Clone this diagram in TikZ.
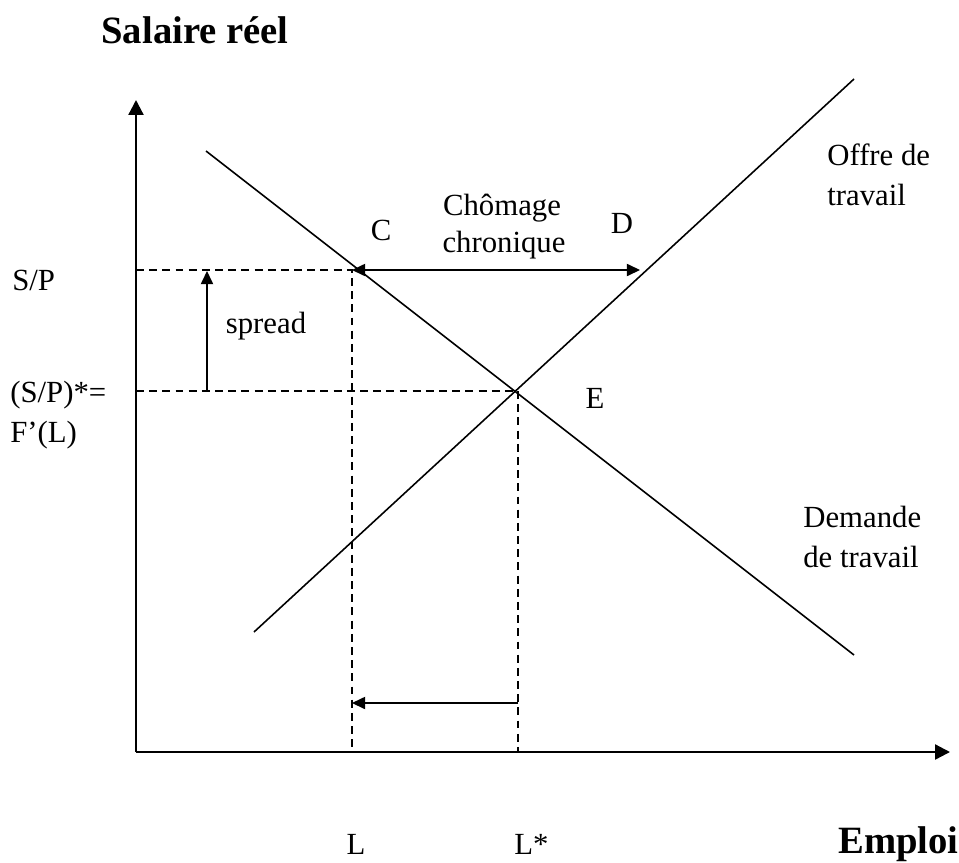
\documentclass[tikz,border=0pt]{standalone}
\usepackage{fontspec}
\setmainfont{Liberation Serif}
\usepackage{tikz}
\usetikzlibrary{arrows.meta}

\begin{document}
\begin{tikzpicture}[x=0.02cm,y=-0.02cm,
    txt/.style={inner sep=0pt,font=\fontsize{17.5}{21}\selectfont},
    ttl/.style={inner sep=0pt,font=\fontsize{22}{26}\selectfont\bfseries},
    axis/.style={line width=1.3pt,-{Triangle[length=8.5pt,width=8.5pt]}},
    curve/.style={line width=0.9pt},
    guide/.style={line width=0.6pt,dash pattern=on 4.5pt off 3pt},
    move/.style={line width=0.7pt,-{Triangle[length=7.5pt,width=7pt]}}]
    \useasboundingbox (0,0) rectangle (959,862);
    % points
    \coordinate (O) at (136,752);
    \coordinate (ytip) at (136,100);
    \coordinate (xtip) at (950,752);
    \coordinate (d1) at (206,151);
    \coordinate (d2) at (854,655);
    \coordinate (s1) at (254,632);
    \coordinate (s2) at (854,79);
    \coordinate (C) at (352,270);
    \coordinate (D) at (640,270);
    \coordinate (E) at (518,391);
    \coordinate (spY) at (136,270);
    \coordinate (eqY) at (136,391);
    \coordinate (Lx) at (352,752);
    \coordinate (Lsx) at (518,752);
    \coordinate (sprB) at (207,391);
    \coordinate (sprT) at (207,271);
    \coordinate (arR) at (518,703);
    \coordinate (arL) at (352,703);
    % axes
    \draw[axis] (O) -- (ytip);
    \draw[axis] (O) -- (xtip);
    % demand and supply
    \draw[curve] (d1) -- (d2);
    \draw[curve] (s1) -- (s2);
    % guides
    \draw[guide] (spY) -- (C) -- (Lx);
    \draw[guide] (eqY) -- (E) -- (Lsx);
    % arrows
    \draw[move,{Triangle[length=7.5pt,width=7pt]}-{Triangle[length=7.5pt,width=7pt]}] (C) -- (D);
    \draw[move] (sprB) -- (sprT);
    \draw[move] (arR) -- (arL);
    % labels
    \node[ttl,anchor=base] (title) at (195,43) {Salaire réel};
    \node[ttl,anchor=base east] (emploi) at (959,853) {Emploi};
    \node[txt,anchor=base west] (sp) at (12,290) {S/P};
    \node[txt,anchor=base west] (speq) at (10,402) {(S/P)*=};
    \node[txt,anchor=base west] (fl) at (10,442) {F’(L)};
    \node[txt,anchor=base] (lC) at (381,240) {C};
    \node[txt,anchor=base] (lD) at (622,233) {D};
    \node[txt,anchor=base] (lE) at (595,408) {E};
    \node[txt,anchor=base] (cho) at (502,215) {Chômage};
    \node[txt,anchor=base] (chr) at (504,252) {chronique};
    \node[txt,anchor=base] (spr) at (266,333) {spread};
    \node[txt,anchor=base west] (of1) at (827,165) {Offre de};
    \node[txt,anchor=base west] (of2) at (827,205) {travail};
    \node[txt,anchor=base west] (de1) at (803,527) {Demande};
    \node[txt,anchor=base west] (de2) at (803,567) {de travail};
    \node[txt,anchor=base] (lL) at (356,854) {L};
    \node[txt,anchor=base west] (lLs) at (514,854) {L*};
\end{tikzpicture}
\end{document}
